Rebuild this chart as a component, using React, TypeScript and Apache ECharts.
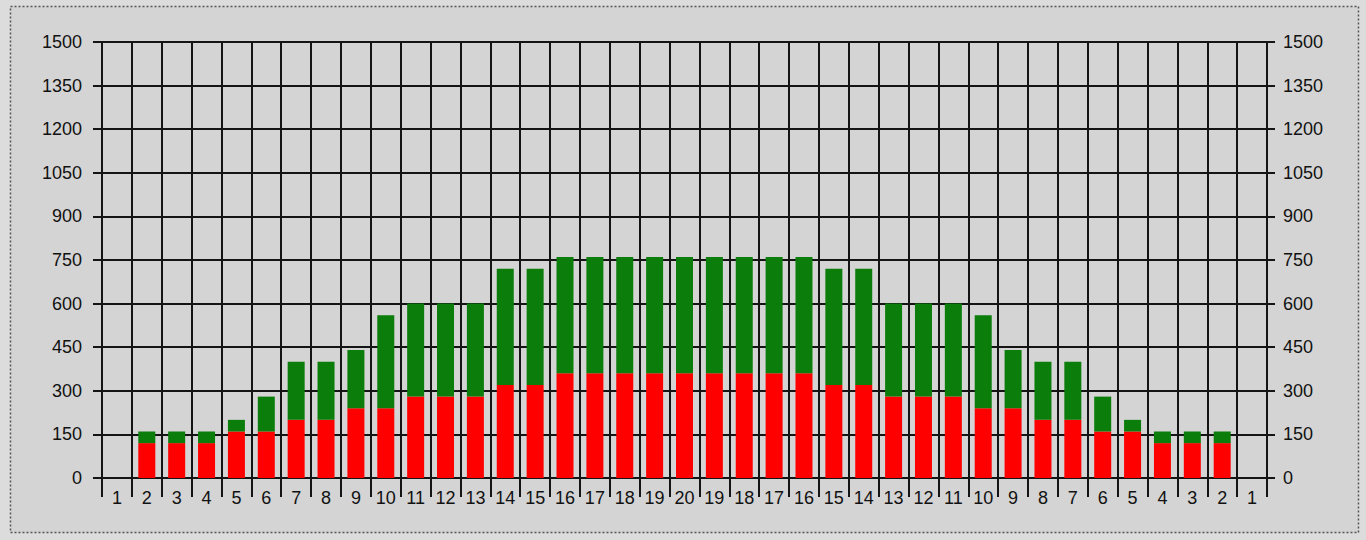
import React, { useEffect, useRef } from "react";
import * as echarts from "echarts";

const categories: string[] = [
  "1", "2", "3", "4", "5", "6", "7", "8", "9", "10",
  "11", "12", "13", "14", "15", "16", "17", "18", "19", "20",
  "19", "18", "17", "16", "15", "14", "13", "12", "11", "10",
  "9", "8", "7", "6", "5", "4", "3", "2", "1",
];

const redValues: number[] = [
  0, 120, 120, 120, 160, 160, 200, 200, 240, 240,
  280, 280, 280, 320, 320, 360, 360, 360, 360, 360,
  360, 360, 360, 360, 320, 320, 280, 280, 280, 240,
  240, 200, 200, 160, 160, 120, 120, 120, 0,
];

const totalValues: number[] = [
  0, 160, 160, 160, 200, 280, 400, 400, 440, 560,
  600, 600, 600, 720, 720, 760, 760, 760, 760, 760,
  760, 760, 760, 760, 720, 720, 600, 600, 600, 560,
  440, 400, 400, 280, 200, 160, 160, 160, 0,
];

const greenValues: number[] = totalValues.map((t, i) => t - redValues[i]);

const yMin = 0;
const yMax = 1500;
const yInterval = 150;

export default function App() {
  const ref = useRef<HTMLDivElement>(null);

  useEffect(() => {
    if (!ref.current) return;
    const chart = echarts.init(ref.current, undefined, { renderer: "svg" });
    const lineColor = "#141414";
    const labelStyle = {
      color: "#111",
      fontFamily: "Liberation Sans, Arial, sans-serif",
      fontSize: 18,
    };
    const plain = (v: number) => String(v);
    const yAxisCommon = {
      type: "value" as const,
      min: yMin,
      max: yMax,
      interval: yInterval,
      axisLine: { show: false },
      splitLine: { show: true, lineStyle: { color: lineColor, width: 2 } },
    };
    chart.setOption({
      animation: false,
      backgroundColor: "#dcdcdc",
      graphic: [
        {
          type: "rect",
          z: -10,
          silent: true,
          shape: { x: 10.5, y: 6.5, width: 1348, height: 526 },
          style: { fill: "#d4d4d4", stroke: "#555", lineWidth: 1.5, lineDash: [2, 2] },
        },
      ],
      grid: { left: 102, right: 99, top: 42, bottom: 62, containLabel: false },
      xAxis: {
        type: "category",
        data: categories,
        boundaryGap: true,
        axisLine: { show: true, lineStyle: { color: lineColor, width: 2 } },
        axisTick: { show: true, length: 19, interval: 0, lineStyle: { color: lineColor, width: 2 } },
        axisLabel: { ...labelStyle, interval: 0, margin: 11 },
        splitLine: { show: true, interval: 0, lineStyle: { color: lineColor, width: 2 } },
      },
      yAxis: [
        {
          ...yAxisCommon,
          position: "left",
          axisTick: { show: true, length: 9, lineStyle: { color: lineColor, width: 2 } },
          axisLabel: { ...labelStyle, margin: 20, formatter: plain },
        },
        {
          ...yAxisCommon,
          position: "right",
          splitLine: { show: false },
          axisTick: { show: true, length: 8, lineStyle: { color: lineColor, width: 2 } },
          axisLabel: { ...labelStyle, margin: 16, formatter: plain },
        },
      ],
      series: [
        {
          name: "red",
          type: "bar",
          stack: "s",
          data: redValues,
          barWidth: 17,
          itemStyle: { color: "#ff0000" },
        },
        {
          name: "green",
          type: "bar",
          stack: "s",
          data: greenValues,
          barWidth: 17,
          itemStyle: { color: "#0a7d0a" },
        },
      ],
    });
    return () => chart.dispose();
  }, []);

  return (
    <div
      ref={ref}
      style={{ position: "fixed", left: 0, top: 0, width: 1366, height: 540 }}
    />
  );
}
